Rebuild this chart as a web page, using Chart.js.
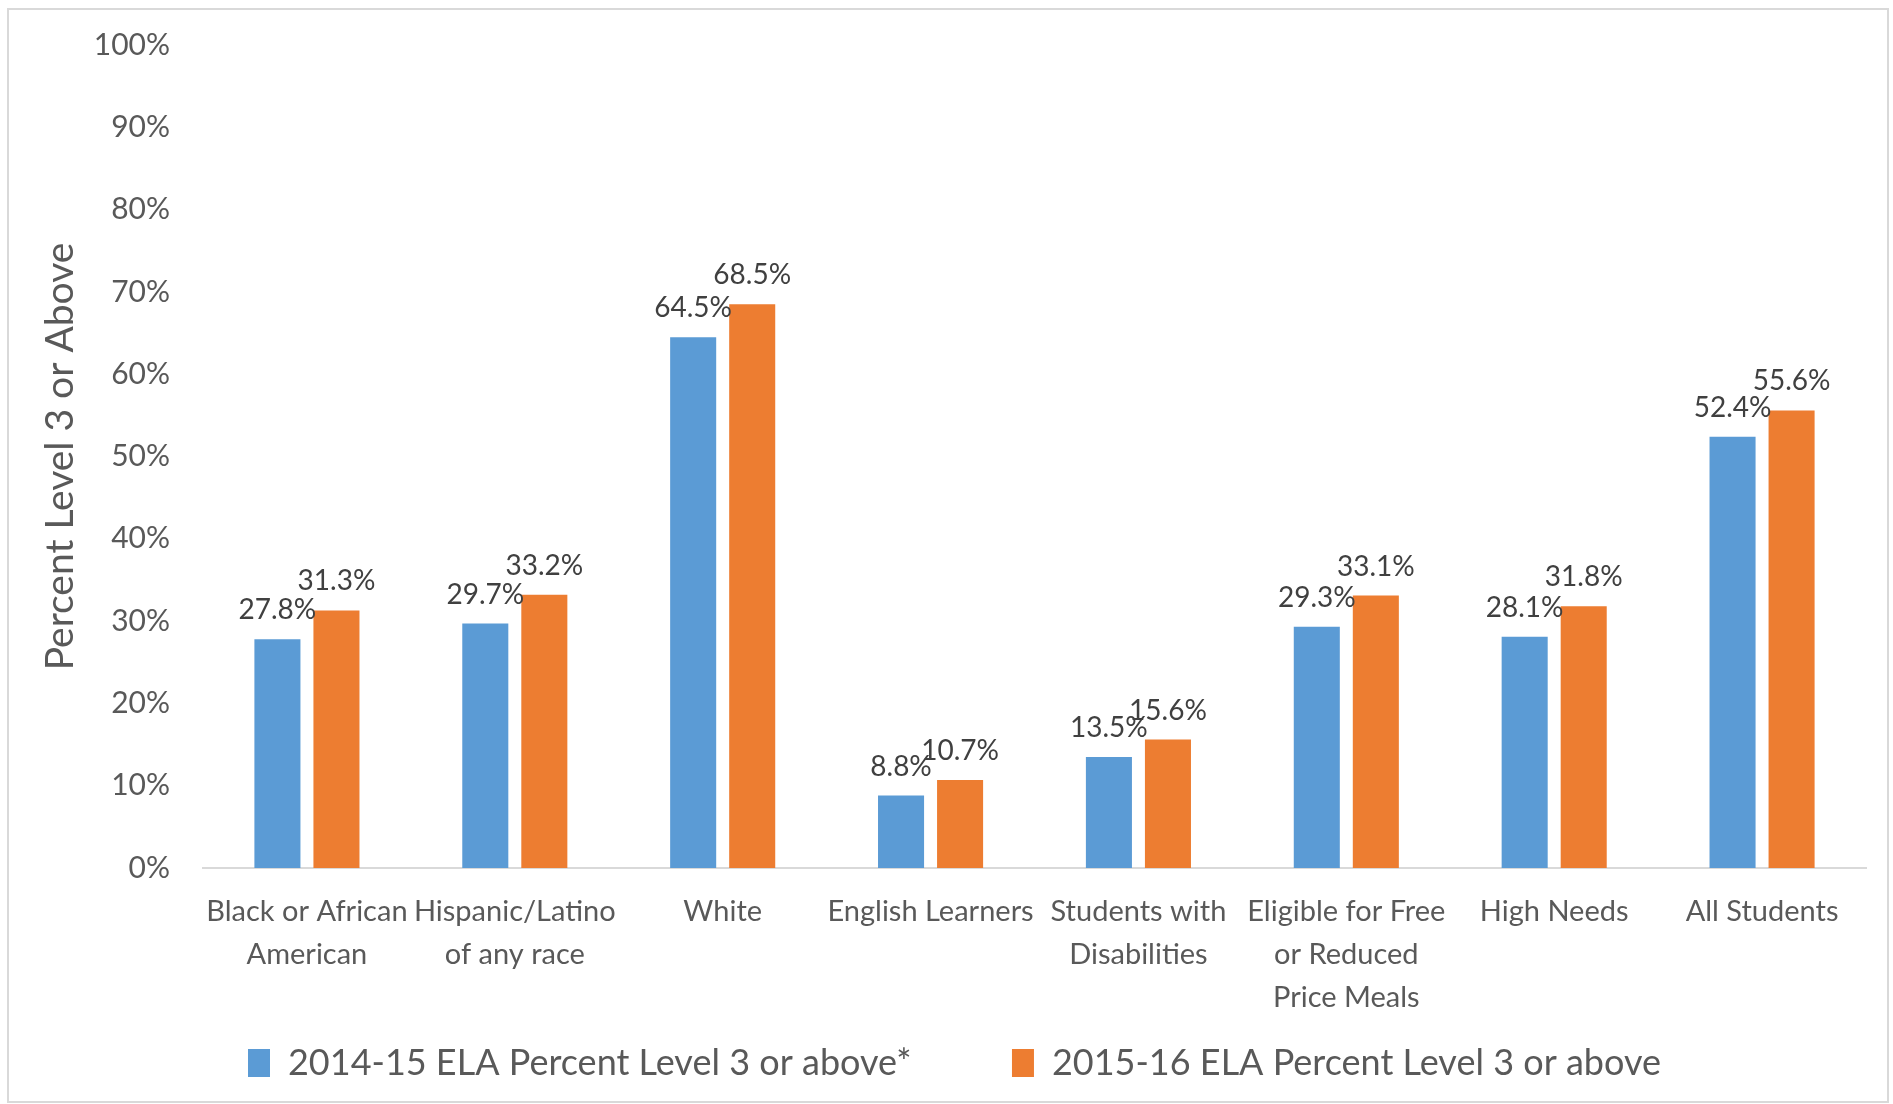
<!DOCTYPE html>
<html>
<head>
<meta charset="utf-8">
<script src="https://cdn.jsdelivr.net/npm/chart.js@4.4.0/dist/chart.umd.min.js"></script>
<style>
    html, body { margin: 0; padding: 0; background: #fff; }
    #wrap { width: 1893px; height: 1104px; }
</style>
</head>
<body>
<div id="wrap"><canvas id="ela-chart" width="1893" height="1104"></canvas></div>
<script>
// Student groups (x axis)
const groups = [
    ['Black or African', 'American'],
    ['Hispanic/Latino', 'of any race'],
    'White',
    'English Learners',
    ['Students with', 'Disabilities'],
    ['Eligible for Free', 'or Reduced', 'Price Meals'],
    'High Needs',
    'All Students'
];

// Percent at Level 3 or above
const ela1415 = [27.8, 29.7, 64.5, 8.8, 13.5, 29.3, 28.1, 52.4];
const ela1516 = [31.3, 33.2, 68.5, 10.7, 15.6, 33.1, 31.8, 55.6];

const seriesNames = ['2014-15 ELA Percent Level 3 or above*', '2015-16 ELA Percent Level 3 or above'];

const textColor = '#595959';

// Thin frame around the whole picture
const framePlugin = {
    id: 'frame',
    beforeDraw(chart) {
        const ctx = chart.ctx;
        ctx.save();
        ctx.fillStyle = '#fff';
        ctx.fillRect(0, 0, chart.width, chart.height);
        ctx.strokeStyle = '#d9d9d9';
        ctx.lineWidth = 2;
        ctx.strokeRect(8, 9, 1880, 1093);
        ctx.restore();
    }
};

// Value labels above each bar
const valueLabels = {
    id: 'valueLabels',
    afterDatasetsDraw(chart) {
        const ctx = chart.ctx;
        ctx.save();
        ctx.font = '28px Lato';
        ctx.fillStyle = '#404040';
        ctx.textAlign = 'center';
        ctx.textBaseline = 'middle';
        chart.data.datasets.forEach((ds, i) => {
            chart.getDatasetMeta(i).data.forEach((bar, j) => {
                ctx.fillText(ds.data[j].toFixed(1) + '%', bar.x, bar.y - 29);
            });
        });
        ctx.restore();
    }
};

Chart.defaults.font.family = 'Lato';
Chart.defaults.color = textColor;

new Chart(document.getElementById('ela-chart'), {
    type: 'bar',
    data: {
        labels: groups,
        datasets: [{
            label: seriesNames[0],
            data: ela1415,
            backgroundColor: '#5B9BD5',
            borderWidth: 0,
            barPercentage: 0.78,
            categoryPercentage: 0.568
        }, {
            label: seriesNames[1],
            data: ela1516,
            backgroundColor: '#ED7D31',
            borderWidth: 0,
            barPercentage: 0.78,
            categoryPercentage: 0.568
        }]
    },
    options: {
        responsive: false,
        animation: false,
        layout: { padding: { left: 43, right: 27, top: 45, bottom: 13 } },
        scales: {
            x: {
                grid: { display: false, drawTicks: false },
                border: { display: true, color: '#d9d9d9', width: 2 },
                ticks: {
                    autoSkip: false,
                    maxRotation: 0,
                    padding: 22,
                    font: { size: 29, lineHeight: 1.48 },
                    color: textColor
                },
                afterFit: s => { s.height = 153; }
            },
            y: {
                min: 0,
                max: 100,
                // tick marks hidden, their length only spaces the labels
                grid: { display: false, drawTicks: true, tickLength: 30 },
                border: { display: false },
                ticks: {
                    stepSize: 10,
                    padding: 3,
                    font: { size: 30 },
                    color: textColor,
                    callback: v => v + '%'
                },
                title: {
                    display: true,
                    text: 'Percent Level 3 or Above',
                    font: { size: 39 },
                    color: textColor,
                    padding: { top: -6, bottom: 4 }
                },
                afterFit: s => { s.width = 160; }
            }
        },
        plugins: {
            legend: {
                position: 'bottom',
                labels: {
                    boxWidth: 22,
                    boxHeight: 28,
                    padding: 24,
                    font: { size: 36 },
                    color: textColor,
                    // widen the gap after the first entry
                    generateLabels: chart => {
                        const items = Chart.defaults.plugins.legend.labels.generateLabels(chart);
                        items[0].text += '\u2003\u2003\u2002\u2009';
                        return items;
                    }
                }
            },
            tooltip: { enabled: false }
        }
    },
    plugins: [framePlugin, valueLabels]
});
</script>
</body>
</html>
